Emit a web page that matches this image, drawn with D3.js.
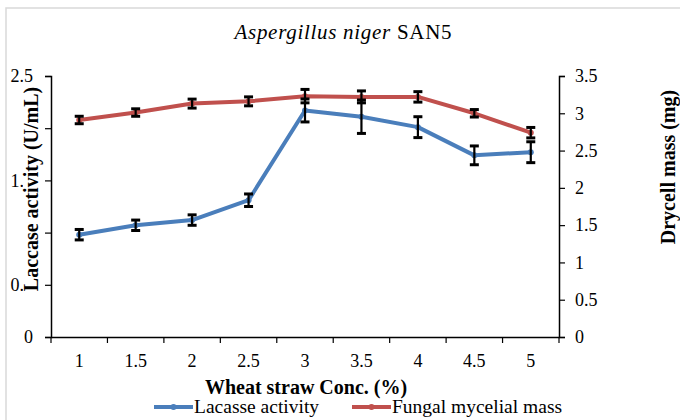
<!DOCTYPE html>
<html>
<head>
<meta charset="utf-8">
<script src="https://cdn.jsdelivr.net/npm/d3@7"></script>
<style>
  body { margin: 0; background: #fff; }
  svg text { font-family: "Liberation Serif", serif; fill: #000; }
</style>
</head>
<body>
<script>
// data
const concs = ["1", "1.5", "2", "2.5", "3", "3.5", "4", "4.5", "5"];
const laccase = [0.98, 1.07, 1.12, 1.31, 2.17, 2.11, 2.01, 1.74, 1.77];
const laccaseErr = [0.05, 0.05, 0.05, 0.06, 0.11, 0.16, 0.10, 0.09, 0.10];
const mycelial = [2.91, 3.01, 3.13, 3.16, 3.23, 3.22, 3.22, 3.00, 2.74];
const mycelialErr = [0.05, 0.05, 0.06, 0.06, 0.09, 0.08, 0.07, 0.05, 0.07];
const leftTicks = [0, 0.5, 1, 1.5, 2, 2.5];
const rightTicks = [0, 0.5, 1, 1.5, 2, 2.5, 3, 3.5];

const width = 680, height = 420;
const plot = {left: 51, right: 559, top: 76, bottom: 337};
const blue = "#4a7ebb", red = "#c0504d";

const svg = d3.select("body").append("svg")
  .attr("width", width)
  .attr("height", height);

// light frame of the chart area
svg.append("path")
  .attr("d", `M6,${height} V8 H${width}`)
  .attr("fill", "none")
  .attr("stroke", "#d9d9d9")
  .attr("stroke-width", 1.5);

const x = d3.scaleBand().domain(concs).range([plot.left, plot.right]);
const yL = d3.scaleLinear().domain([0, 2.5]).range([plot.bottom, plot.top]);
const yR = d3.scaleLinear().domain([0, 3.5]).range([plot.bottom, plot.top]);
const cx = d => x(d) + x.bandwidth() / 2;

// axes
svg.append("g")
  .attr("transform", `translate(${plot.left},0)`)
  .call(d3.axisLeft(yL).tickValues(leftTicks).tickSize(6).tickPadding(12).tickFormat(d3.format("")))
  .call(g => g.select(".domain").attr("stroke-width", 1.5))
  .call(g => g.selectAll(".tick line").attr("stroke-width", 1.2))
  .call(g => g.selectAll("text").attr("font-size", 18));

svg.append("g")
  .attr("transform", `translate(${plot.right},0)`)
  .call(d3.axisRight(yR).tickValues(rightTicks).tickSize(6).tickPadding(10).tickFormat(d3.format("")))
  .call(g => g.select(".domain").attr("stroke-width", 1.5))
  .call(g => g.selectAll(".tick line").attr("stroke-width", 1.2))
  .call(g => g.selectAll("text").attr("font-size", 18));

const xAxis = svg.append("g")
  .attr("transform", `translate(0,${plot.bottom})`)
  .call(d3.axisBottom(x).tickSize(0).tickPadding(17))
  .call(g => g.select(".domain").attr("stroke-width", 1.5))
  .call(g => g.selectAll("text").attr("font-size", 18));

// category boundary ticks
const bounds = concs.map(c => x(c)).concat([plot.right]);
xAxis.selectAll(".sep")
  .data(bounds)
  .join("line")
  .attr("class", "sep")
  .attr("x1", d => d).attr("x2", d => d)
  .attr("y1", 0).attr("y2", 6)
  .attr("stroke", "#000").attr("stroke-width", 1.2);

// series
function drawSeries(vals, errs, y, color) {
  const pts = concs.map((c, i) => ({c, v: vals[i], e: errs[i]}));
  svg.append("path")
    .datum(pts)
    .attr("fill", "none")
    .attr("stroke", color)
    .attr("stroke-width", 4)
    .attr("stroke-linejoin", "round")
    .attr("d", d3.line().x(d => cx(d.c)).y(d => y(d.v)));
  svg.append("g").selectAll("circle")
    .data(pts).join("circle")
    .attr("cx", d => cx(d.c)).attr("cy", d => y(d.v))
    .attr("r", 3).attr("fill", color);
  const eb = svg.append("g").attr("stroke", "#000");
  eb.selectAll(".v").data(pts).join("line")
    .attr("x1", d => cx(d.c)).attr("x2", d => cx(d.c))
    .attr("y1", d => y(d.v - d.e)).attr("y2", d => y(d.v + d.e))
    .attr("stroke-width", 2.2);
  eb.selectAll(".t").data(pts).join("line")
    .attr("x1", d => cx(d.c) - 4.5).attr("x2", d => cx(d.c) + 4.5)
    .attr("y1", d => y(d.v + d.e)).attr("y2", d => y(d.v + d.e))
    .attr("stroke-width", 3);
  eb.selectAll(".b").data(pts).join("line")
    .attr("x1", d => cx(d.c) - 4.5).attr("x2", d => cx(d.c) + 4.5)
    .attr("y1", d => y(d.v - d.e)).attr("y2", d => y(d.v - d.e))
    .attr("stroke-width", 3);
}
drawSeries(mycelial, mycelialErr, yR, red);
drawSeries(laccase, laccaseErr, yL, blue);

// title
const title = svg.append("text")
  .attr("x", 343).attr("y", 39)
  .attr("text-anchor", "middle")
  .attr("font-size", 21)
  .attr("textLength", 217)
  .attr("lengthAdjust", "spacing");
title.append("tspan").attr("font-style", "italic").text("Aspergillus niger");
title.append("tspan").text(" SAN5");

// left axis title (its white box hides part of the tick labels)
const ly = svg.append("g").attr("transform", "translate(38,189) rotate(-90)");
ly.append("rect").attr("x", -105).attr("y", -15).attr("width", 210).attr("height", 19).attr("fill", "#fff");
ly.append("text").attr("text-anchor", "middle")
  .attr("font-size", 20).attr("font-weight", "bold")
  .text("Laccase activity (U/mL)");

svg.append("text")
  .attr("transform", "translate(675,167) rotate(-90)")
  .attr("text-anchor", "middle")
  .attr("font-size", 20).attr("font-weight", "bold")
  .text("Drycell mass (mg)");

svg.append("text")
  .attr("x", 306).attr("y", 394)
  .attr("text-anchor", "middle")
  .attr("font-size", 20).attr("font-weight", "bold")
  .text("Wheat straw Conc. (%)");

// legend
const legendItems = [
  {name: "Lacasse activity", color: blue, x: 154},
  {name: "Fungal mycelial mass", color: red, x: 352}
];
const lg = svg.append("g").selectAll("g").data(legendItems).join("g")
  .attr("transform", d => `translate(${d.x},407)`);
lg.append("line").attr("x1", 0).attr("x2", 39).attr("y1", 0).attr("y2", 0)
  .attr("stroke", d => d.color).attr("stroke-width", 4);
lg.append("circle").attr("cx", 19.5).attr("r", 3).attr("fill", d => d.color);
lg.append("text").attr("x", 40).attr("y", 6).attr("font-size", 19.5).text(d => d.name);
</script>
</body>
</html>
